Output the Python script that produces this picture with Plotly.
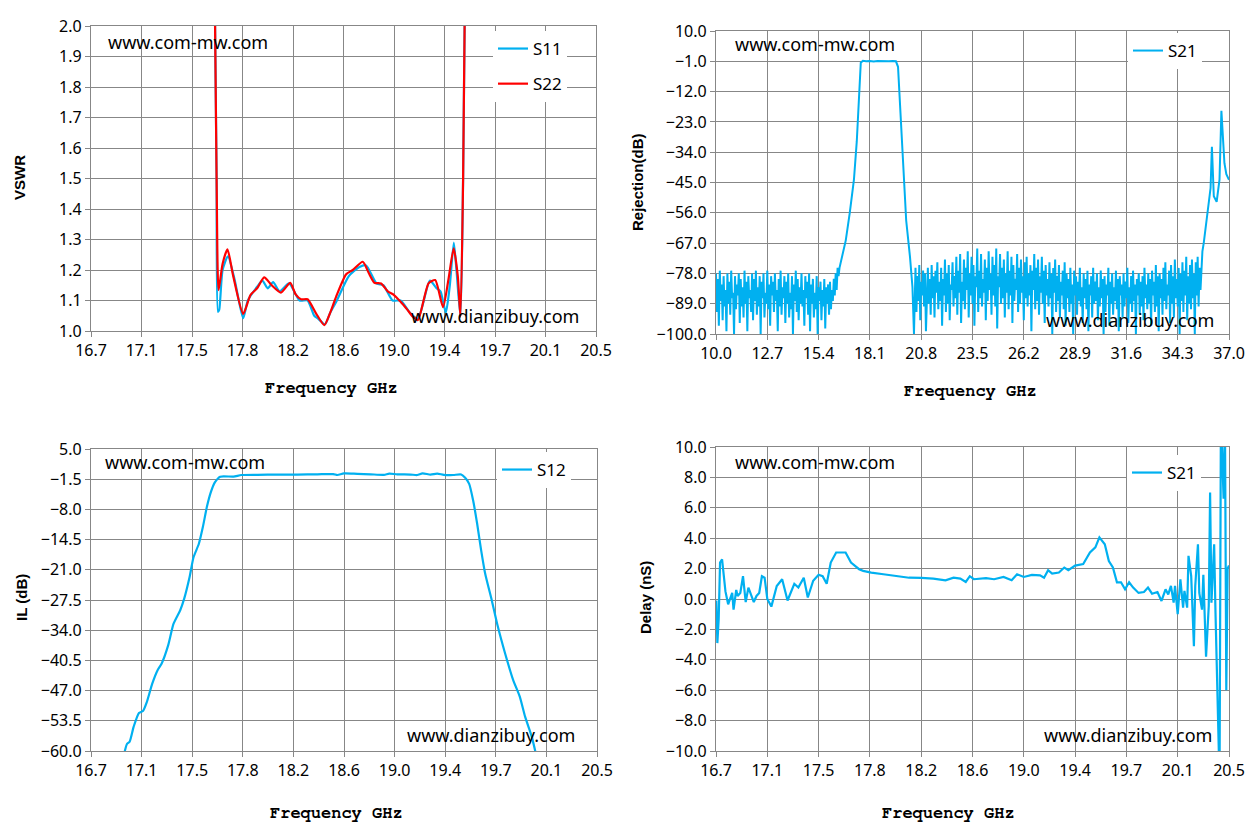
import plotly.graph_objects as go
import numpy as np

# ---- VSWR (S11 / S22) ----
s11_f = [17.62, 17.645, 17.655, 17.665, 17.69, 17.73, 17.78, 17.845, 17.88, 17.95,
         17.99, 18.03, 18.07, 18.12, 18.19, 18.27, 18.33, 18.38, 18.41, 18.46,
         18.50, 18.55, 18.64, 18.72, 18.77, 18.85, 18.90, 18.97, 19.03, 19.10,
         19.16, 19.25, 19.30, 19.33, 19.37, 19.40, 19.43, 19.45, 19.48, 19.50, 19.525]
s11_v = [2.6, 1.5, 1.063, 1.07, 1.20, 1.245, 1.17, 1.042, 1.10, 1.145,
         1.165, 1.14, 1.16, 1.13, 1.156, 1.10, 1.10, 1.05, 1.04, 1.022,
         1.06, 1.10, 1.18, 1.21, 1.215, 1.155, 1.15, 1.10, 1.10, 1.06,
         1.04, 1.165, 1.14, 1.13, 1.06, 1.15, 1.29, 1.20, 1.047, 1.5, 2.6]

s22_f = [17.62, 17.645, 17.66, 17.69, 17.727, 17.77, 17.845, 17.90, 17.95, 18.003,
         18.06, 18.129, 18.199, 18.24, 18.28, 18.33, 18.393, 18.456, 18.50, 18.544,
         18.62, 18.67, 18.745, 18.79, 18.833, 18.883, 18.933, 18.98, 19.03, 19.08,
         19.122, 19.16, 19.24, 19.29, 19.349, 19.39, 19.429, 19.46, 19.48, 19.50, 19.525]
s22_v = [2.6, 1.5, 1.134, 1.22, 1.268, 1.18, 1.056, 1.118, 1.14, 1.176,
         1.15, 1.126, 1.158, 1.12, 1.104, 1.104, 1.058, 1.019, 1.06, 1.112,
         1.186, 1.20, 1.227, 1.19, 1.158, 1.156, 1.13, 1.118, 1.096, 1.07,
         1.047, 1.036, 1.156, 1.167, 1.078, 1.17, 1.271, 1.18, 1.047, 1.5, 2.6]

# ---- Rejection (S21 wideband) ----
rej_f_low = [10.00, 10.05, 10.10, 10.15, 10.20, 10.25, 10.30, 10.35, 10.40, 10.45,
             10.50, 10.55, 10.60, 10.65, 10.70, 10.75, 10.80, 10.85, 10.90, 10.95,
             11.00, 11.05, 11.10, 11.15, 11.20, 11.25, 11.30, 11.35, 11.40, 11.45,
             11.50, 11.55, 11.60, 11.65, 11.70, 11.75, 11.80, 11.85, 11.90, 11.95,
             12.00, 12.05, 12.10, 12.15, 12.20, 12.25, 12.30, 12.35, 12.40, 12.45,
             12.50, 12.55, 12.60, 12.65, 12.70, 12.75, 12.80, 12.85, 12.90, 12.95,
             13.00, 13.05, 13.10, 13.15, 13.20, 13.25, 13.30, 13.35, 13.40, 13.45,
             13.50, 13.55, 13.60, 13.65, 13.70, 13.75, 13.80, 13.85, 13.90, 13.95,
             14.00, 14.05, 14.10, 14.15, 14.20, 14.25, 14.30, 14.35, 14.40, 14.45,
             14.50, 14.55, 14.60, 14.65, 14.70, 14.75, 14.80, 14.85, 14.90, 14.95,
             15.00, 15.05, 15.10, 15.15, 15.20, 15.25, 15.30, 15.35, 15.40, 15.45,
             15.50, 15.55, 15.60, 15.65, 15.70, 15.75, 15.80, 15.85, 15.90, 15.95,
             16.00, 16.05, 16.10, 16.15, 16.20, 16.25, 16.30, 16.35, 16.40, 16.45]
rej_db_low = [-78, -92, -80, -97, -77, -88, -82, -95, -79, -90,
              -84, -99, -78, -89, -81, -93, -77, -87, -85, -100,
              -79, -91, -82, -86, -78, -96, -80, -90, -83, -94,
              -77, -89, -81, -99, -79, -87, -84, -92, -78, -95,
              -80, -88, -77, -93, -83, -90, -79, -100, -81, -87,
              -78, -94, -85, -89, -77, -91, -82, -97, -79, -86,
              -81, -92, -78, -88, -84, -99, -80, -90, -77, -93,
              -83, -87, -79, -96, -81, -89, -78, -94, -85, -91,
              -79, -100, -82, -88, -77, -92, -80, -95, -83, -89,
              -78, -90, -84, -97, -79, -87, -81, -93, -78, -99,
              -82, -89, -80, -94, -85, -91, -79, -100, -83, -88,
              -81, -95, -84, -90, -80, -98, -83, -89, -82, -93,
              -81, -91, -84, -88, -80, -86, -78, -84, -76, -79]

rej_f_band = [16.5, 16.6, 16.7, 16.83, 17.04, 17.26, 17.41, 17.51, 17.62, 17.73,
              17.9, 18.1, 18.3, 18.5, 18.7, 18.9, 19.1, 19.3, 19.47, 19.58,
              19.69, 19.84, 20.01, 20.21, 20.34, 20.42]
rej_db_band = [-76, -73, -70, -66, -56, -44, -30, -14, -1.5, -0.8,
               -1.0, -0.9, -1.1, -0.9, -1.0, -0.9, -1.0, -0.9, -1.0, -3,
               -17.6, -39, -58.8, -72, -83, -100]

rej_f_high = [20.45, 20.50, 20.55, 20.60, 20.65, 20.70, 20.75, 20.80, 20.85, 20.90,
              20.95, 21.00, 21.05, 21.10, 21.15, 21.20, 21.25, 21.30, 21.35, 21.40,
              21.45, 21.50, 21.55, 21.60, 21.65, 21.70, 21.75, 21.80, 21.85, 21.90,
              21.95, 22.00, 22.05, 22.10, 22.15, 22.20, 22.25, 22.30, 22.35, 22.40,
              22.45, 22.50, 22.55, 22.60, 22.65, 22.70, 22.75, 22.80, 22.85, 22.90,
              22.95, 23.00, 23.05, 23.10, 23.15, 23.20, 23.25, 23.30, 23.35, 23.40,
              23.45, 23.50, 23.55, 23.60, 23.65, 23.70, 23.75, 23.80, 23.85, 23.90,
              23.95, 24.00, 24.05, 24.10, 24.15, 24.20, 24.25, 24.30, 24.35, 24.40,
              24.45, 24.50, 24.55, 24.60, 24.65, 24.70, 24.75, 24.80, 24.85, 24.90,
              24.95, 25.00, 25.05, 25.10, 25.15, 25.20, 25.25, 25.30, 25.35, 25.40,
              25.45, 25.50, 25.55, 25.60, 25.65, 25.70, 25.75, 25.80, 25.85, 25.90,
              25.95, 26.00, 26.05, 26.10, 26.15, 26.20, 26.25, 26.30, 26.35, 26.40,
              26.45, 26.50, 26.55, 26.60, 26.65, 26.70, 26.75, 26.80, 26.85, 26.90,
              26.95, 27.00, 27.05, 27.10, 27.15, 27.20, 27.25, 27.30, 27.35, 27.40,
              27.45, 27.50, 27.55, 27.60, 27.65, 27.70, 27.75, 27.80, 27.85, 27.90,
              27.95, 28.00, 28.05, 28.10, 28.15, 28.20, 28.25, 28.30, 28.35, 28.40,
              28.45, 28.50, 28.55, 28.60, 28.65, 28.70, 28.75, 28.80, 28.85, 28.90,
              28.95, 29.00, 29.05, 29.10, 29.15, 29.20, 29.25, 29.30, 29.35, 29.40,
              29.45, 29.50, 29.55, 29.60, 29.65, 29.70, 29.75, 29.80, 29.85, 29.90,
              29.95, 30.00, 30.05, 30.10, 30.15, 30.20, 30.25, 30.30, 30.35, 30.40,
              30.45, 30.50, 30.55, 30.60, 30.65, 30.70, 30.75, 30.80, 30.85, 30.90,
              30.95, 31.00, 31.05, 31.10, 31.15, 31.20, 31.25, 31.30, 31.35, 31.40,
              31.45, 31.50, 31.55, 31.60, 31.65, 31.70, 31.75, 31.80, 31.85, 31.90,
              31.95, 32.00, 32.05, 32.10, 32.15, 32.20, 32.25, 32.30, 32.35, 32.40,
              32.45, 32.50, 32.55, 32.60, 32.65, 32.70, 32.75, 32.80, 32.85, 32.90,
              32.95, 33.00, 33.05, 33.10, 33.15, 33.20, 33.25, 33.30, 33.35, 33.40,
              33.45, 33.50, 33.55, 33.60, 33.65, 33.70, 33.75, 33.80, 33.85, 33.90,
              33.95, 34.00, 34.05, 34.10, 34.15, 34.20, 34.25, 34.30, 34.35, 34.40,
              34.45, 34.50, 34.55, 34.60, 34.65, 34.70, 34.75, 34.80, 34.85, 34.90,
              34.95, 35.00, 35.05, 35.10, 35.15, 35.20, 35.25, 35.30, 35.35, 35.40,
              35.45, 35.50, 35.55]
rej_db_high = [-84, -76, -92, -79, -88, -75, -95, -81, -86, -77,
               -90, -78, -99, -82, -76, -89, -80, -93, -75, -87,
               -79, -94, -77, -85, -74, -91, -81, -88, -76, -97,
               -80, -86, -73, -92, -78, -89, -75, -95, -82, -84,
               -74, -90, -79, -87, -72, -93, -77, -85, -71, -96,
               -81, -88, -73, -91, -76, -84, -70, -94, -78, -86,
               -72, -89, -75, -97, -79, -83, -69, -92, -77, -87,
               -71, -90, -80, -85, -73, -95, -76, -88, -70, -84,
               -78, -93, -72, -86, -75, -90, -69, -98, -79, -83,
               -71, -89, -76, -87, -73, -94, -78, -85, -70, -91,
               -77, -86, -72, -96, -75, -88, -80, -84, -71, -92,
               -76, -89, -73, -85, -79, -95, -74, -87, -72, -90,
               -78, -86, -75, -99, -77, -84, -71, -91, -76, -88,
               -73, -93, -79, -85, -72, -89, -77, -96, -75, -86,
               -80, -90, -74, -87, -78, -100, -76, -85, -73, -92,
               -79, -88, -75, -94, -81, -86, -77, -91, -74, -97,
               -78, -87, -80, -92, -76, -89, -82, -100, -77, -86,
               -79, -93, -81, -88, -76, -90, -83, -96, -78, -87,
               -80, -91, -77, -99, -82, -86, -79, -94, -76, -89,
               -81, -88, -78, -95, -83, -90, -77, -87, -80, -100,
               -79, -92, -82, -86, -76, -97, -81, -89, -78, -93,
               -83, -88, -77, -91, -80, -99, -79, -86, -82, -94,
               -78, -90, -81, -87, -76, -96, -83, -89, -79, -92,
               -77, -88, -82, -100, -80, -86, -78, -93, -81, -90,
               -79, -95, -76, -87, -82, -91, -78, -89, -80, -97,
               -77, -86, -81, -92, -75, -90, -79, -99, -78, -87,
               -80, -93, -76, -88, -74, -91, -82, -86, -77, -96,
               -75, -89, -79, -94, -73, -87, -80, -90, -76, -100,
               -78, -88, -74, -92, -77, -86, -72, -95, -79, -89,
               -75, -91, -73, -87, -78, -100, -74, -86, -72, -90,
               -76, -84, -73]

rej_f_edge = [35.6, 35.67, 35.8, 35.88, 36.03, 36.1, 36.2, 36.35, 36.5, 36.6,
              36.7, 36.76, 36.86, 37.0]
rej_db_edge = [-70, -67, -60, -57, -47, -32, -50, -52, -44, -19,
               -33, -38, -42, -44]

# ---- Insertion loss (S12) ----
il_f = [16.95, 16.97, 16.99, 17.02, 17.06, 17.09, 17.12, 17.16, 17.20, 17.23,
        17.28, 17.32, 17.37, 17.40, 17.44, 17.47, 17.51, 17.54, 17.57, 17.60,
        17.63, 17.67, 17.77, 17.83, 17.95, 18.10, 18.25, 18.40, 18.52, 18.55,
        18.60, 18.70, 18.80, 18.90, 18.94, 19.00, 19.10, 19.15, 19.19, 19.25,
        19.30, 19.35, 19.42, 19.48, 19.51, 19.54, 19.57, 19.60, 19.63, 19.66,
        19.71, 19.75, 19.81, 19.87, 19.92, 19.96, 20.01, 20.04]
il_db = [-60.5, -58.5, -58.0, -54.8, -51.8, -51.4, -49.4, -45.5, -42.6, -41.2,
         -37.2, -32.6, -29.7, -27.2, -22.6, -18.3, -15.4, -11.8, -7.5, -4.3,
         -2.2, -0.95, -0.95, -0.6, -0.55, -0.5, -0.5, -0.45, -0.4, -0.6,
         -0.25, -0.35, -0.45, -0.55, -0.3, -0.45, -0.5, -0.6, -0.25, -0.5,
         -0.3, -0.55, -0.6, -0.5, -1.2, -2.5, -6.1, -11.1, -16.8, -21.8,
         -27.6, -32.6, -39.0, -44.7, -48.3, -52.6, -56.9, -60.5]

# ---- Group delay (S21) ----
dl_f = [16.703, 16.71, 16.72, 16.73, 16.745, 16.76, 16.77, 16.79, 16.80, 16.82,
        16.83, 16.85, 16.86, 16.88, 16.90, 16.92, 16.94, 16.96, 16.98, 17.00,
        17.02, 17.04, 17.06, 17.08, 17.11, 17.15, 17.19, 17.23, 17.28, 17.31,
        17.35, 17.38, 17.42, 17.46, 17.49, 17.52, 17.55, 17.59, 17.66, 17.70,
        17.76, 17.79, 17.85, 17.94, 18.04, 18.13, 18.22, 18.31, 18.40, 18.46,
        18.51, 18.55, 18.58, 18.61, 18.70, 18.76, 18.83, 18.89, 18.93, 18.98,
        19.04, 19.10, 19.13, 19.16, 19.19, 19.24, 19.28, 19.31, 19.36, 19.42,
        19.47, 19.51, 19.54, 19.58, 19.61, 19.64, 19.67, 19.70, 19.73, 19.76,
        19.79, 19.83, 19.87, 19.90, 19.93, 19.97, 20.00, 20.03, 20.05, 20.07,
        20.09, 20.10, 20.12, 20.14, 20.16, 20.17, 20.19, 20.20, 20.22, 20.24,
        20.25, 20.27, 20.28, 20.30, 20.31, 20.33, 20.35, 20.36, 20.37, 20.39,
        20.40, 20.41, 20.43, 20.44, 20.46, 20.47, 20.48, 20.49, 20.50]
dl_ns = [-0.1, -2.9, -1.3, 2.4, 2.6, 1.1, 0.5, -0.35, -0.1, 0.4,
         -0.7, 0.6, 0.2, 0.4, 1.5, -0.2, 0.75, 0.2, -0.2, 0.2,
         0.4, 1.5, 1.4, 0.0, -0.5, 0.85, 1.3, -0.1, 1.0, 0.75,
         1.4, 0.1, 1.2, 1.6, 1.5, 1.0, 2.4, 3.06, 3.06, 2.4,
         1.96, 1.85, 1.74, 1.63, 1.5, 1.4, 1.39, 1.34, 1.23, 1.4,
         1.34, 1.12, 1.5, 1.3, 1.37, 1.3, 1.45, 1.23, 1.63, 1.45,
         1.59, 1.56, 1.4, 1.9, 1.67, 1.74, 2.07, 1.9, 2.2, 2.3,
         3.06, 3.4, 4.05, 3.6, 2.5, 2.07, 1.1, 1.1, 0.64, 1.1,
         0.75, 0.4, 0.46, 0.75, 0.35, 0.46, -0.13, 0.64, 0.3, 0.86,
         -0.24, 0.86, -1.0, 1.3, -0.57, 0.53, -0.57, 2.84, 1.5, -3.1,
         0.86, 3.6, 0.4, -0.7, 1.6, -3.8, -0.46, 7.0, -0.24, 3.6,
         -0.9, -5.1, -12.0, 12.0, 6.6, 12.0, -6.0, 2.0, 2.2]

# tick labels (Excel-style rounded labels on evenly spaced ticks)
band_ticks = ["16.7", "17.1", "17.5", "17.8", "18.2", "18.6", "19.0", "19.4", "19.7", "20.1", "20.5"]
wide_ticks = ["10.0", "12.7", "15.4", "18.1", "20.8", "23.5", "26.2", "28.9", "31.6", "34.3", "37.0"]

W, H = 1259, 833
OFF = 8  # page body margin
BLUE = "#00B0F0"
RED = "#FF0000"
GRID = "#878787"
TICKFONT = dict(family="Liberation Sans Narrow, Noto Sans, sans-serif", size=16, color="#000000")
TITLEFONT_X = dict(family="Nimbus Mono PS, FreeMono, Courier, DejaVu Serif, serif", size=17, color="#000000")
TITLEFONT_Y = dict(family="Liberation Sans, Arial, sans-serif", size=15, color="#000000")
MARKFONT = dict(family="Noto Sans, sans-serif", size=18, color="#000000")

# plot area boxes in pixels (as seen on the page): left, right, top, bottom
boxes = [(91, 596, 26, 331), (716, 1229, 31, 334), (91, 597, 449, 751), (716, 1229, 447, 751)]


def px(x):
    return (x - OFF) / W


def py(y):
    return 1 - (y - OFF) / H


def dom(b):
    l, r, t, bt = b
    return [px(l), px(r)], [py(bt), py(t)]


fig = go.Figure()

rej_f = rej_f_low + rej_f_band + rej_f_high + rej_f_edge
rej_db = rej_db_low + rej_db_band + rej_db_high + rej_db_edge

smooth = dict(shape="spline", smoothing=0.6)
fig.add_trace(go.Scatter(x=s11_f, y=s11_v, name="S11", mode="lines", legendgroup="a",
                         line=dict(color=BLUE, width=2.2, **smooth), xaxis="x", yaxis="y", legend="legend"))
fig.add_trace(go.Scatter(x=s22_f, y=s22_v, name="S22", mode="lines", legendgroup="b",
                         line=dict(color=RED, width=2.2, **smooth), xaxis="x", yaxis="y", legend="legend"))
fig.add_trace(go.Scatter(x=rej_f, y=rej_db, name="S21", mode="lines",
                         line=dict(color=BLUE, width=2), xaxis="x2", yaxis="y2", legend="legend2"))
fig.add_trace(go.Scatter(x=il_f, y=il_db, name="S12", mode="lines",
                         line=dict(color=BLUE, width=2.2, **smooth), xaxis="x3", yaxis="y3", legend="legend3"))
fig.add_trace(go.Scatter(x=dl_f, y=dl_ns, name="S21", mode="lines",
                         line=dict(color=BLUE, width=2.2), xaxis="x4", yaxis="y4", legend="legend4"))

axis_common = dict(showgrid=True, gridcolor=GRID, gridwidth=1.3, showline=True, linecolor=GRID,
                   linewidth=1.3, mirror=True, ticks="outside", ticklen=5, tickcolor=GRID,
                   tickfont=TICKFONT, zeroline=False, fixedrange=True, automargin=False)

xranges = [(16.7, 20.5, band_ticks), (10.0, 37.0, wide_ticks), (16.7, 20.5, band_ticks), (16.7, 20.5, band_ticks)]
yranges = [(1.0, 2.0, 0.1), (-100.0, 10.0, 11.0), (-60.0, 5.0, 6.5), (-10.0, 10.0, 2.0)]

layout = {}
for i, b in enumerate(boxes):
    xd, yd = dom(b)
    sfx = "" if i == 0 else str(i + 1)
    lo, hi, labels = xranges[i]
    ylo, yhi, dt = yranges[i]
    layout["xaxis" + sfx] = dict(axis_common, domain=xd, range=[lo, hi],
                                 tickvals=list(np.linspace(lo, hi, len(labels))), ticktext=labels,
                                 anchor="y" + sfx)
    layout["yaxis" + sfx] = dict(axis_common, domain=yd, range=[ylo, yhi], tick0=yhi, dtick=dt,
                                 tickformat=".1f", anchor="x" + sfx)

fig.update_layout(template="none")
fig.update_layout(**layout)

leg = dict(bgcolor="white", borderwidth=0, font=dict(family="Liberation Sans Narrow, Noto Sans, sans-serif",
           size=17, color="#000000"), xanchor="left", yanchor="top", tracegroupgap=10)
fig.update_layout(
    legend=dict(leg, x=px(493), y=py(31)),
    legend2=dict(leg, x=px(1128), y=py(33)),
    legend3=dict(leg, x=px(497), y=py(452)),
    legend4=dict(leg, x=px(1127), y=py(455)),
)

ann = []
# axis titles
for cx, cy in [(331, 388), (970, 391), (336, 813), (948, 813)]:
    ann.append(dict(text="<b>Frequency GHz</b>", x=px(cx), y=py(cy), xref="paper", yref="paper",
                    showarrow=False, font=TITLEFONT_X, xanchor="center", yanchor="middle"))
for txt, cx, cy in [("VSWR", 19, 178), ("Rejection(dB)", 637, 182), ("IL (dB)", 21, 598), ("Delay (nS)", 645, 598)]:
    ann.append(dict(text="<b>" + txt + "</b>", x=px(cx), y=py(cy), xref="paper", yref="paper",
                    showarrow=False, font=TITLEFONT_Y, textangle=-90, xanchor="center", yanchor="middle"))
# watermarks
for (lx, ly, rx, ry) in [(106, 42, 581, 316), (733, 44, 1216, 320), (103, 462, 577, 735), (733, 462, 1214, 735)]:
    ann.append(dict(text="www.com-mw.com", x=px(lx), y=py(ly), xref="paper", yref="paper",
                    showarrow=False, font=MARKFONT, xanchor="left", yanchor="middle"))
    ann.append(dict(text="www.dianzibuy.com", x=px(rx), y=py(ry), xref="paper", yref="paper",
                    showarrow=False, font=MARKFONT, xanchor="right", yanchor="middle"))

fig.update_layout(
    annotations=ann,
    width=W, height=H,
    margin=dict(l=0, r=0, t=0, b=0),
    paper_bgcolor="white",
    plot_bgcolor="white",
    showlegend=True,
)

fig.write_html("out.html")
